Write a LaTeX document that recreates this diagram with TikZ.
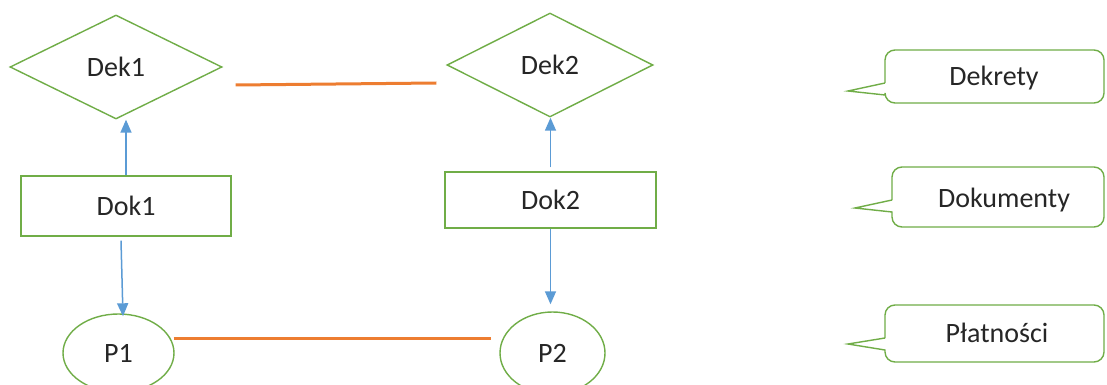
\documentclass[tikz,border=0pt]{standalone}
\usepackage{fontspec}
\setmainfont{Carlito}
\usetikzlibrary{shapes.geometric,arrows.meta,calc}
\definecolor{gr}{RGB}{112,173,71}
\definecolor{bl}{RGB}{91,155,213}
\definecolor{orz}{RGB}{237,125,49}
\tikzset{
  txt/.style={font=\fontsize{28}{32}\selectfont, text=black!85},
  dekbox/.style={txt, shape=diamond, draw=gr, line width=1.4pt, inner sep=0pt},
  dokbox/.style={txt, shape=rectangle, draw=gr, line width=1.4pt, inner sep=0pt},
  platbox/.style={txt, shape=ellipse, draw=gr, line width=1.4pt, inner sep=0pt},
  arr/.style={draw=bl, line width=1.5pt, -{Triangle[length=13pt,width=11pt]}},
  link/.style={draw=orz, line width=3pt},
  callout/.style={draw=gr, line width=1.4pt}
}
\begin{document}
\begin{tikzpicture}[x=1pt,y=-1pt]
\useasboundingbox[fill=white] (0,0) rectangle (1107,385);
% diamonds
\node[dekbox, minimum width=212pt, minimum height=104pt] (Dek1) at (116,67) {Dek1};
\node[dekbox, minimum width=206pt, minimum height=104pt] (Dek2) at (550,65) {Dek2};
% rectangles
\node[dokbox, minimum width=210pt, minimum height=60pt] (Dok1) at (126,206) {Dok1};
\node[dokbox, minimum width=211pt, minimum height=56pt] (Dok2) at (550.5,200) {Dok2};
% ellipses
\node[platbox, minimum width=111pt, minimum height=78pt] (P1) at (118.5,353) {P1};
\node[platbox, minimum width=105pt, minimum height=82pt] (P2) at (552.5,353) {P2};
% arrows
\draw[arr] (Dok1.north) -- (Dok1.north |- Dek1.south);
\draw[arr] ([yshift=4pt]Dok2.north) -- (Dok2.north |- Dek2.south);
\draw[arr] ($(Dok1.south)+(-5,4)$) -- ($(P1.north)+(4.5,3)$);
\draw[arr, shorten >=7pt] (Dok2.south) -- (Dok2.south |- P2.north);
% orange links
\draw[link] ($(Dek1.east)+(13,18)$) -- ($(Dek2.west)+(-10,18)$);
\draw[link] ($(P1.east)+(-1,-15)$) -- ($(P2.west)+(-8,-15)$);
% callouts
\draw[callout] (885,83) -- (848,91) -- (885,95) [rounded corners=10pt] -- (885,103) -- (1104,103) -- (1104,50) -- (885,50) -- (885,83);
\draw[callout] (892,200) -- (855,208) -- (892,212) [rounded corners=10pt] -- (892,227) -- (1104,227) -- (1104,167) -- (892,167) -- (892,200);
\draw[callout] (885,338) -- (848,344) -- (885,350) [rounded corners=10pt] -- (885,362) -- (1104,362) -- (1104,305) -- (885,305) -- (885,338);
\node[txt] (Dekrety) at (994,78) {Dekrety};
\node[txt] (Dokumenty) at (1004,200) {Dokumenty};
\node[txt] (Platnosci) at (997,333) {Płatności};
\end{tikzpicture}
\end{document}
